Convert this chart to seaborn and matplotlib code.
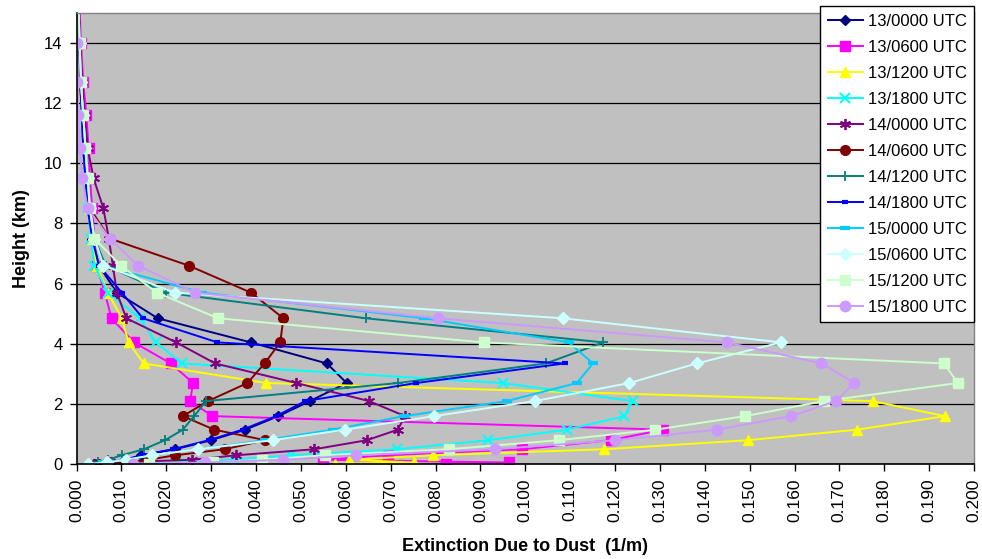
import numpy as np
import pandas as pd
import matplotlib
matplotlib.use("Agg")
import matplotlib.pyplot as plt
import seaborn as sns

# ---------------- data ----------------
heights = [0.01, 0.06, 0.15, 0.3, 0.5, 0.8, 1.15, 1.6, 2.1, 2.7, 3.35, 4.05, 4.85,
           5.7, 6.6, 7.5, 8.5, 9.5, 10.5, 11.6, 12.7, 14.0, 15.4]

series_names = ["13/0000 UTC", "13/0600 UTC", "13/1200 UTC", "13/1800 UTC",
                "14/0000 UTC", "14/0600 UTC", "14/1200 UTC", "14/1800 UTC",
                "15/0000 UTC", "15/0600 UTC", "15/1200 UTC", "15/1800 UTC"]

ext_13_0000 = [0.004, 0.008, 0.011, 0.0143, 0.022, 0.030, 0.0376, 0.045, 0.052, 0.0602, 0.0558, 0.0388,
               0.0181, 0.009, 0.005, 0.0035, 0.0025, 0.002, 0.0015, 0.0012, 0.0009, 0.0006, 0.0004]
ext_13_0600 = [0.0824, 0.0963, 0.055, 0.0694, 0.0992, 0.119, 0.1308, 0.0303, 0.0253, 0.026, 0.021, 0.0128,
               0.0078, 0.0063, 0.0045, 0.004, 0.0035, 0.003, 0.0027, 0.0022, 0.0015, 0.001, 0.0006]
ext_13_1200 = [0.0576, 0.0753, 0.0607, 0.0795, 0.1176, 0.1496, 0.174, 0.1935, 0.1774, 0.0423, 0.015, 0.0116,
               0.0101, 0.007, 0.0045, 0.0035, 0.0028, 0.0022, 0.0017, 0.0013, 0.001, 0.0007, 0.0004]
ext_13_1800 = [0.009, 0.0224, 0.035, 0.0477, 0.0714, 0.0918, 0.1093, 0.1221, 0.1239, 0.095, 0.0235, 0.0177,
               0.0141, 0.007, 0.004, 0.0032, 0.0026, 0.002, 0.0016, 0.0012, 0.0009, 0.0006, 0.0004]
ext_14_0000 = [0.004, 0.0074, 0.0258, 0.0356, 0.053, 0.0647, 0.0716, 0.0732, 0.0652, 0.049, 0.0309, 0.0222,
               0.0111, 0.009, 0.0081, 0.0072, 0.006, 0.0038, 0.0025, 0.0018, 0.0013, 0.0008, 0.0005]
ext_14_0600 = [0.0047, 0.0105, 0.016, 0.022, 0.033, 0.0421, 0.0307, 0.0237, 0.0293, 0.0381, 0.0419, 0.0454,
               0.0461, 0.0389, 0.025, 0.0074, 0.003, 0.0025, 0.002, 0.0013, 0.0007, 0.0007, 0.0004]
ext_14_1200 = [0.0025, 0.0047, 0.007, 0.0101, 0.015, 0.0197, 0.0237, 0.0262, 0.0289, 0.0717, 0.1046, 0.1174,
               0.0645, 0.0199, 0.0065, 0.004, 0.003, 0.0025, 0.002, 0.0015, 0.001, 0.0007, 0.0004]
ext_14_1800 = [0.004, 0.0075, 0.0108, 0.0145, 0.0215, 0.0295, 0.037, 0.0445, 0.051, 0.0757, 0.1088, 0.0314,
               0.0148, 0.0101, 0.005, 0.0035, 0.0025, 0.002, 0.0015, 0.0012, 0.0009, 0.0006, 0.0004]
ext_15_0000 = [0.0025, 0.006, 0.011, 0.017, 0.027, 0.042, 0.0571, 0.073, 0.0959, 0.1115, 0.1151, 0.1097,
               0.0775, 0.028, 0.006, 0.004, 0.003, 0.0025, 0.002, 0.0015, 0.001, 0.0007, 0.0004]
ext_15_0600 = [0.0025, 0.0067, 0.011, 0.0168, 0.0271, 0.0437, 0.0598, 0.0797, 0.1021, 0.1232, 0.1382, 0.157,
               0.1084, 0.022, 0.006, 0.004, 0.003, 0.0025, 0.002, 0.0015, 0.001, 0.0007, 0.0004]
ext_15_1200 = [0.0161, 0.0305, 0.0414, 0.0553, 0.0829, 0.1075, 0.129, 0.149, 0.1666, 0.1964, 0.1933, 0.0907,
               0.0316, 0.0179, 0.0099, 0.004, 0.003, 0.0025, 0.002, 0.0015, 0.001, 0.0007, 0.0004]
ext_15_1800 = [0.0125, 0.0287, 0.046, 0.0623, 0.0932, 0.120, 0.1427, 0.1592, 0.1693, 0.1733, 0.166, 0.1449,
               0.0806, 0.0264, 0.0137, 0.0074, 0.0025, 0.0013, 0.0007, 0.0004, 0.0002, 0.0002, 0.0001]

x_ticks = [i / 100 for i in range(0, 21)]
y_ticks = [0, 2, 4, 6, 8, 10, 12, 14]

all_ext = [ext_13_0000, ext_13_0600, ext_13_1200, ext_13_1800, ext_14_0000, ext_14_0600,
           ext_14_1200, ext_14_1800, ext_15_0000, ext_15_0600, ext_15_1200, ext_15_1800]

df = pd.concat([pd.DataFrame({"series": n, "ext": v, "height": heights, "order": range(len(heights))})
                for n, v in zip(series_names, all_ext)], ignore_index=True)

# ---------------- style ----------------
styles = {
    "13/0000 UTC": dict(color="#000080", marker="D", ms=5.5, mew=1),
    "13/0600 UTC": dict(color="#FF00FF", marker="s", ms=6.5, mew=1),
    "13/1200 UTC": dict(color="#FFFF00", marker="^", ms=7.5, mew=1),
    "13/1800 UTC": dict(color="#00FFFF", marker="x", ms=6.5, mew=1.5),
    "14/0000 UTC": dict(color="#800080", marker=(6, 2, 0), ms=8, mew=1.3),
    "14/0600 UTC": dict(color="#800000", marker="o", ms=7, mew=1),
    "14/1200 UTC": dict(color="#008080", marker="+", ms=7.5, mew=1.3),
    "14/1800 UTC": dict(color="#0000FF", marker="_", ms=5, mew=3),
    "15/0000 UTC": dict(color="#00CCFF", marker="_", ms=7, mew=3),
    "15/0600 UTC": dict(color="#CCFFFF", marker="D", ms=6, mew=1),
    "15/1200 UTC": dict(color="#CCFFCC", marker="s", ms=7, mew=1),
    "15/1800 UTC": dict(color="#CC99FF", marker="o", ms=7.5, mew=1),
}

plt.rcParams["font.family"] = ["Liberation Sans", "DejaVu Sans"]

W, H = 982, 559
fig = plt.figure(figsize=(W / 100, H / 100), dpi=100)
left_px, right_px, top_px, bot_px = 76.5, 974, 12.7, 464.3
ax = fig.add_axes([left_px / W, (H - bot_px) / H, (right_px - left_px) / W, (bot_px - top_px) / H])
ax.set_facecolor("#C0C0C0")

for name in series_names:
    st = styles[name]
    sub = df[df["series"] == name].sort_values("order")
    sns.lineplot(data=sub, x="ext", y="height", sort=False, estimator=None, ax=ax,
                 color=st["color"], linewidth=1.4, marker=st["marker"], markersize=st["ms"],
                 markeredgecolor=st["color"], markerfacecolor=st["color"],
                 markeredgewidth=st["mew"], label=name)

ax.set_xlim(0, 0.2)
ax.set_ylim(0, 15)
ax.set_xticks(x_ticks)
ax.set_xticklabels([f"{t:.3f}" for t in x_ticks], rotation=90, fontsize=12.5)
ax.set_yticks(y_ticks)
ax.set_yticklabels([str(t) for t in y_ticks], fontsize=12)
ax.tick_params(axis="both", direction="out", length=5, width=1, color="black", pad=5)
ax.yaxis.grid(True, color="black", linewidth=0.9)
ax.xaxis.grid(False)
ax.set_axisbelow(True)

for side in ["left", "bottom"]:
    ax.spines[side].set_color("black")
    ax.spines[side].set_linewidth(1.2)
for side in ["top", "right"]:
    ax.spines[side].set_color("#808080")
    ax.spines[side].set_linewidth(1.0)

ax.set_xlabel("Extinction Due to Dust  (1/m)", fontsize=13, fontweight="bold", labelpad=12)
ax.set_ylabel("Height (km)", fontsize=13, fontweight="bold", labelpad=10)

leg = ax.legend(loc="upper right", bbox_to_anchor=(974 / W, 1 - 6 / H), bbox_transform=fig.transFigure,
                fontsize=12, frameon=True, fancybox=False, framealpha=1, edgecolor="black",
                handlelength=2.1, handletextpad=0.3, labelspacing=0.66, borderpad=0.45, borderaxespad=0)
leg.get_frame().set_linewidth(1.0)
leg.set_zorder(10)

fig.savefig("out.png", dpi=100, facecolor="white")
